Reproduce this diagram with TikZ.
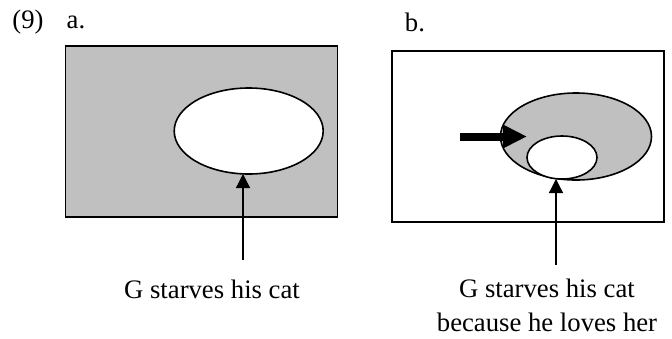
\documentclass[tikz,border=0pt]{standalone}
\usepackage{fontspec}
\setmainfont{Liberation Serif}
\usetikzlibrary{shapes.geometric,arrows.meta}
\definecolor{shade}{HTML}{C0C0C0}
\begin{document}
\begin{tikzpicture}[x=1pt,y=-1pt,
  lbl/.style={font=\fontsize{26.7}{34}\selectfont, inner sep=0pt, align=center},
  frame/.style={draw=black, line width=1.6pt},
  oval/.style={ellipse, draw=black, line width=1.6pt, inner sep=0pt},
  thinarrow/.style={line width=1.3pt, -{Triangle[length=14pt,width=14pt]}},
  fatarrow/.style={line width=8pt, -{Triangle[length=24pt,width=22pt]}}]
\useasboundingbox (0,0) rectangle (672,338);
% labels
\node[lbl] (n9) at (28,22) {(9)};
\node[lbl] (la) at (76,22) {a.};
\node[lbl] (lb) at (415,22) {b.};
% panel a
\node[frame, fill=shade, minimum width=272pt, minimum height=171pt, inner sep=0pt] (ra) at (201.5,131.5) {};
\node[oval, fill=white, minimum width=149pt, minimum height=86pt] (ea) at (248.7,131) {};
\coordinate (sa) at (243,260);
\draw[thinarrow] (sa) -- (243,174);
\node[lbl] (ta) at (212,289) {G starves his cat};
% panel b
\node[frame, fill=white, minimum width=272pt, minimum height=171pt, inner sep=0pt] (rb) at (528,136.5) {};
\node[oval, fill=shade, minimum width=151pt, minimum height=87pt] (eb) at (576,136.5) {};
\node[oval, fill=white, minimum width=70pt, minimum height=43pt] (es) at (562,157.5) {};
\coordinate (fs) at (460,136.5);
\coordinate (ft) at (527,136.5);
\draw[fatarrow] (fs) -- (ft);
\coordinate (sb) at (556,265);
\draw[thinarrow] (sb) -- (556,179);
\node[lbl] (tb) at (547,305) {G starves his cat\\because he loves her};
\end{tikzpicture}
\end{document}
